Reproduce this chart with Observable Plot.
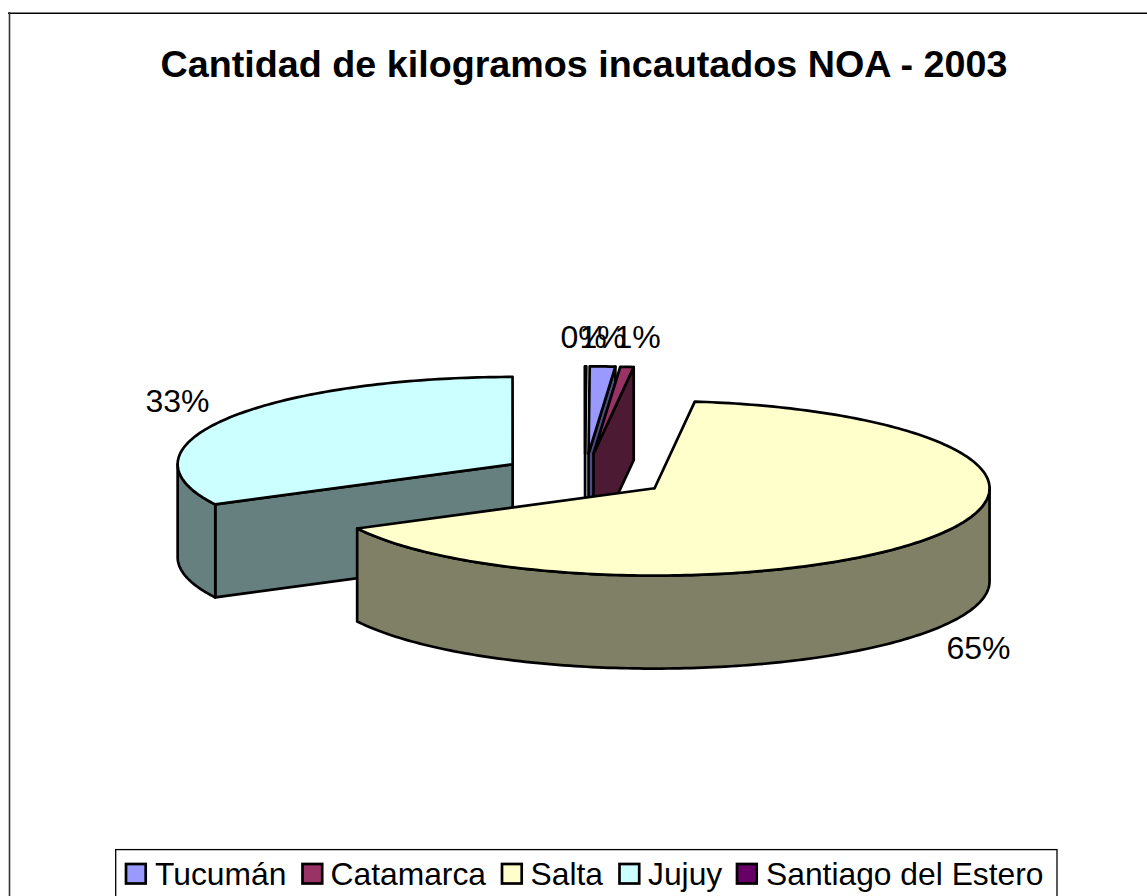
<!DOCTYPE html>
<html><head><meta charset="utf-8">
<script src="https://cdn.jsdelivr.net/npm/d3@7"></script>
<script src="https://cdn.jsdelivr.net/npm/@observablehq/plot@0.6"></script>
<style>html,body{margin:0;padding:0;background:#fff;overflow:hidden}svg{display:block}</style>
</head><body><div id="chart"></div>
<script>
const categories = ["Tucumán", "Catamarca", "Salta", "Jujuy", "Santiago del Estero"];
const shares = [1.22, 0.64, 65.47, 32.61, 0.06];
const percentLabels = ["1%", "1%", "65%", "33%", "0%"];
const topColors = ["#9999FF", "#993366", "#FFFFCC", "#CCFFFF", "#660066"];
const sideColors = ["#4D4D80", "#4D1A33", "#808066", "#668080", "#330033"];
const chartTitle = "Cantidad de kilogramos incautados NOA - 2003";

const W = 1147, H = 896, font = "Liberation Sans, Arial, sans-serif";
const cx = 584.5, cy = 475.2, rx = 335, ry = 87.3, depth = 93, explode = 0.2527, startAngle = 0.2;
const total = d3.sum(shares);
const rad = d => d * Math.PI / 180;

let acc = 0;
const slices = categories.map((name, i) => {
  const a0 = startAngle + acc / total * 360; acc += shares[i]; const a1 = startAngle + acc / total * 360;
  const mid = rad((a0 + a1) / 2);
  return {name, i, a0, a1, ax: cx + explode * rx * Math.sin(mid), ay: cy - explode * ry * Math.cos(mid)};
});
const rim = (s, a) => [s.ax + rx * Math.sin(rad(a)), s.ay - ry * Math.cos(rad(a))];
function arc(s, from, to) {
  const n = Math.max(1, Math.ceil(Math.abs(to - from)));
  return d3.range(n + 1).map(k => rim(s, from + (to - from) * k / n));
}
const faces = [];
function face(key, pts) {
  const id = faces.length;
  [...pts, pts[0]].forEach(p => faces.push({id: key + id, x: p[0], y: p[1], key}));
}
const down = p => [p[0], p[1] + depth];
function drawSlice(s) {
  const sideKey = s.name + " (lado)";
  const wall = a => { const r = rim(s, a); return [[s.ax, s.ay], r, down(r), [s.ax, s.ay + depth]]; };
  if (s.name === "Jujuy") {
    face(sideKey, wall(s.a0));
    const o = arc(s, s.a0, 270);
    face(sideKey, [...o, ...o.map(down).reverse()]);
  } else if (s.name === "Salta") {
    const o = arc(s, 90, s.a1);
    face(sideKey, [...o, ...o.map(down).reverse()]);
  } else if (s.name === "Santiago del Estero") {
    face(sideKey, wall(s.a0));
  } else {
    face(sideKey, wall(s.a1));
  }
  face(s.name, [[s.ax, s.ay], ...arc(s, s.a0, s.a1)]);
}
const order = ["Jujuy", "Santiago del Estero", "Tucumán", "Catamarca", "Salta"];
order.forEach(n => drawSlice(slices.find(s => s.name === n)));

const labelPos = {"Tucumán": [602, 337], "Catamarca": [637, 337], "Salta": [978, 648], "Jujuy": [177, 401], "Santiago del Estero": [583, 337]};
const labels = categories.map((name, i) => ({t: percentLabels[i], x: labelPos[name][0], y: labelPos[name][1]}));

const legendX = [126, 302.5, 502, 619.5, 737];
const legendTextX = [154.5, 330, 530, 647.5, 765.5];
const swatches = categories.map((name, i) => ({name, x1: legendX[i], x2: legendX[i] + 19.7, y1: 864, y2: 883.5}));
const legendTexts = categories.map((name, i) => ({name, x: legendTextX[i], y: 874}));

const plot = Plot.plot({
  width: W, height: H, margin: 0,
  x: {domain: [0, W], range: [0, W], axis: null},
  y: {domain: [0, H], range: [0, H], axis: null},
  color: {domain: [...categories, ...categories.map(c => c + " (lado)")], range: [...topColors, ...sideColors]},
  marks: [
    Plot.ruleY([12.8], {x1: 8, x2: W, stroke: "#000", strokeWidth: 1.5}),
    Plot.ruleX([9], {y1: 12, y2: H, stroke: "#333", strokeWidth: 1.6}),
    Plot.text([chartTitle], {x: 583.5, y: 64, text: d => d, fontFamily: font, fontWeight: "bold", fontSize: 37.7, fill: "#000"}),
    Plot.line(faces, {x: "x", y: "y", z: "id", fill: "key", stroke: "#000", strokeWidth: 2.7, strokeLinejoin: "round", curve: "linear"}),
    Plot.text(labels, {x: "x", y: "y", text: "t", fontFamily: font, fontSize: 32, fill: "#000"}),
    Plot.rect([0], {x1: 115.7, x2: 1057, y1: 849.6, y2: 900, fill: "#fff", stroke: "#000", strokeWidth: 1.3}),
    Plot.rect(swatches, {x1: "x1", x2: "x2", y1: "y1", y2: "y2", fill: "name", stroke: "#000", strokeWidth: 2.7}),
    Plot.text(legendTexts, {x: "x", y: "y", text: "name", textAnchor: "start", fontFamily: font, fontSize: 31.8, fill: "#000"})
  ]
});
document.getElementById("chart").append(plot);
</script></body></html>
